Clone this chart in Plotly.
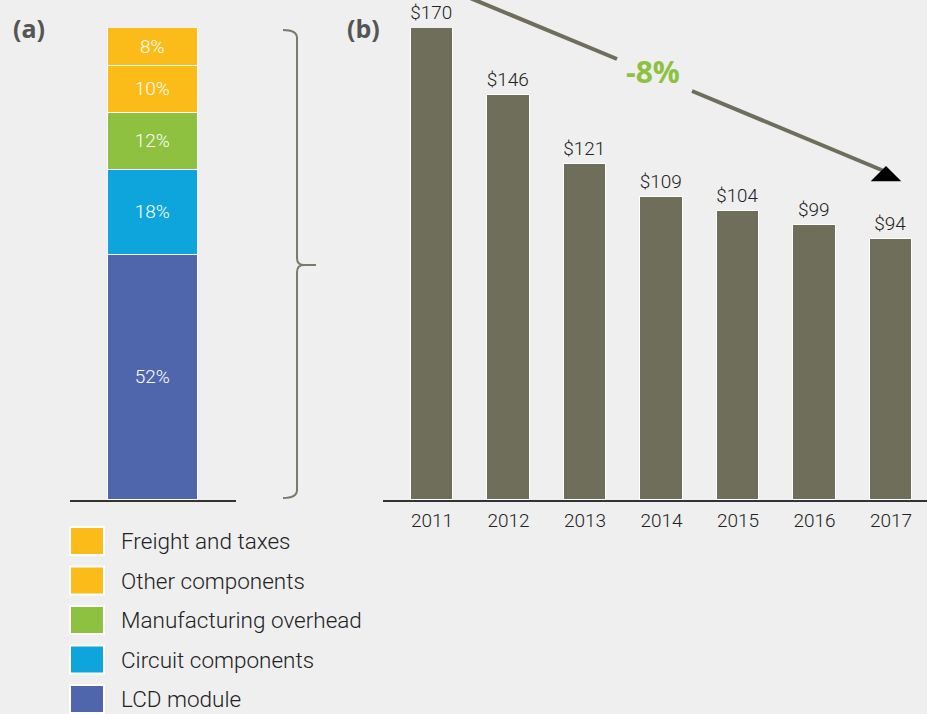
import plotly.graph_objects as go

W, H = 927, 714

# panel (a) cost breakdown, bottom -> top
COMPONENTS = ["LCD module", "Circuit components", "Manufacturing overhead", "Other components", "Freight and taxes"]
SHARES = [52, 18, 12, 10, 8]
COMP_COLORS = ["#4f66ad", "#0da5dc", "#8dc13f", "#fbbc19", "#fbbc19"]

# panel (b) price per year
YEARS = ["2011", "2012", "2013", "2014", "2015", "2016", "2017"]
PRICES = [170, 146, 121, 109, 104, 99, 94]
CAGR_LABEL = "-8%"

BG = "#efefef"
OLIVE = "#6f6e5b"
FONT = "Roboto"


def px(x):
    return x / W


def py(y):
    return 1 - y / H


def path(points):
    # points: list of (cmd, coords) in pixel space -> svg path in paper space
    out = []
    for cmd, pts in points:
        out.append(cmd + " " + " ".join(f"{px(a):.5f},{py(b):.5f}" for a, b in pts))
    return " ".join(out)


fig = go.Figure()

for name, val, col in zip(COMPONENTS, SHARES, COMP_COLORS):
    fig.add_trace(go.Bar(
        x=[0], y=[val], name=name, width=0.548,
        marker=dict(color=col, line=dict(color="white", width=1.5)),
        texttemplate="%{y}%", textposition="inside", insidetextanchor="middle",
        textangle=0, textfont=dict(color="white", size=19, family=FONT, weight=300),
        xaxis="x", yaxis="y", showlegend=False, hoverinfo="skip"))

fig.add_trace(go.Bar(
    x=YEARS, y=PRICES, width=0.56,
    marker=dict(color=OLIVE, line=dict(color="white", width=1.5)),
    texttemplate="$%{y}", textposition="outside", textangle=0,
    textfont=dict(color="#222", size=19, family=FONT, weight=300),
    cliponaxis=False, xaxis="x2", yaxis="y2", showlegend=False, hoverinfo="skip"))

ydom = [py(500), py(28)]

fig.update_layout(
    width=W, height=H,
    margin=dict(l=0, r=0, t=0, b=0),
    paper_bgcolor=BG, plot_bgcolor=BG,
    barmode="stack", bargap=0,
    font=dict(family=FONT, color="#222"),
    xaxis=dict(domain=[px(70), px(236)], range=[-0.5, 0.5], showticklabels=False,
               showgrid=False, zeroline=False, showline=True, linecolor="#333", linewidth=2,
               fixedrange=True),
    yaxis=dict(domain=ydom, range=[0, 100], visible=False, fixedrange=True),
    xaxis2=dict(domain=[px(383), 1], range=[-0.64, 6.47], showgrid=False, zeroline=False,
                showline=True, linecolor="#333", linewidth=2, ticks="",
                ticklabelstandoff=2, tickfont=dict(size=19, color="#222", family=FONT, weight=300),
                anchor="y2", fixedrange=True),
    yaxis2=dict(domain=ydom, range=[0, 170], visible=False, anchor="x2", fixedrange=True),
)

shapes = []
annotations = []

# brace joining (a) to (b)
brace = path([
    ("M", [(283, 30)]), ("Q", [(297, 30), (297, 38)]), ("L", [(297, 258)]),
    ("Q", [(297, 265), (304, 265)]), ("L", [(316, 265)]),
    ("M", [(304, 265)]), ("Q", [(297, 265), (297, 272)]), ("L", [(297, 490)]),
    ("Q", [(297, 498), (283, 498)]),
])
shapes.append(dict(type="path", path=brace, xref="paper", yref="paper",
                   line=dict(color="#7a7a68", width=2)))

# trend arrow, broken around the label
for (x0, y0), (x1, y1) in [((470, -2), (617, 59)), ((692, 91), (884, 171))]:
    shapes.append(dict(type="line", xref="paper", yref="paper",
                       x0=px(x0), y0=py(y0), x1=px(x1), y1=py(y1),
                       line=dict(color=OLIVE, width=4)))
annotations.append(dict(xref="paper", yref="paper", x=px(886), y=py(166),
                        ax=0, ay=12, axref="pixel", ayref="pixel",
                        text="", showarrow=True, arrowhead=1, arrowsize=1.7,
                        arrowwidth=3, arrowcolor="black"))
annotations.append(dict(xref="paper", yref="paper", x=px(653), y=py(72),
                        xanchor="center", yanchor="middle",
                        text=f"<b>{CAGR_LABEL}</b>", showarrow=False,
                        font=dict(size=30, color="#8dc13f", family="Open Sans")))

# panel labels
for lab, xx in [("(a)", 29), ("(b)", 363)]:
    annotations.append(dict(xref="paper", yref="paper", x=px(xx), y=py(28),
                            xanchor="center", yanchor="middle",
                            text=f"<b>{lab}</b>", showarrow=False,
                            font=dict(size=25, color="#555", family="Open Sans")))

# legend, top -> bottom
for i, (name, col) in enumerate(zip(COMPONENTS[::-1], COMP_COLORS[::-1])):
    cy = 541 + i * 39.5
    shapes.append(dict(type="rect", xref="paper", yref="paper",
                       x0=px(70), x1=px(104), y0=py(cy + 14), y1=py(cy - 14),
                       fillcolor=col, line=dict(color="white", width=2)))
    annotations.append(dict(xref="paper", yref="paper", x=px(119), y=py(cy),
                            xanchor="left", yanchor="middle", text=name, showarrow=False,
                            font=dict(size=22.5, color="#222", family=FONT, weight=300)))

fig.update_layout(shapes=shapes, annotations=annotations)

fig.write_html("out.html", config={"displayModeBar": False},
               post_script="document.body.style.margin='0';document.body.style.overflow='hidden';")
